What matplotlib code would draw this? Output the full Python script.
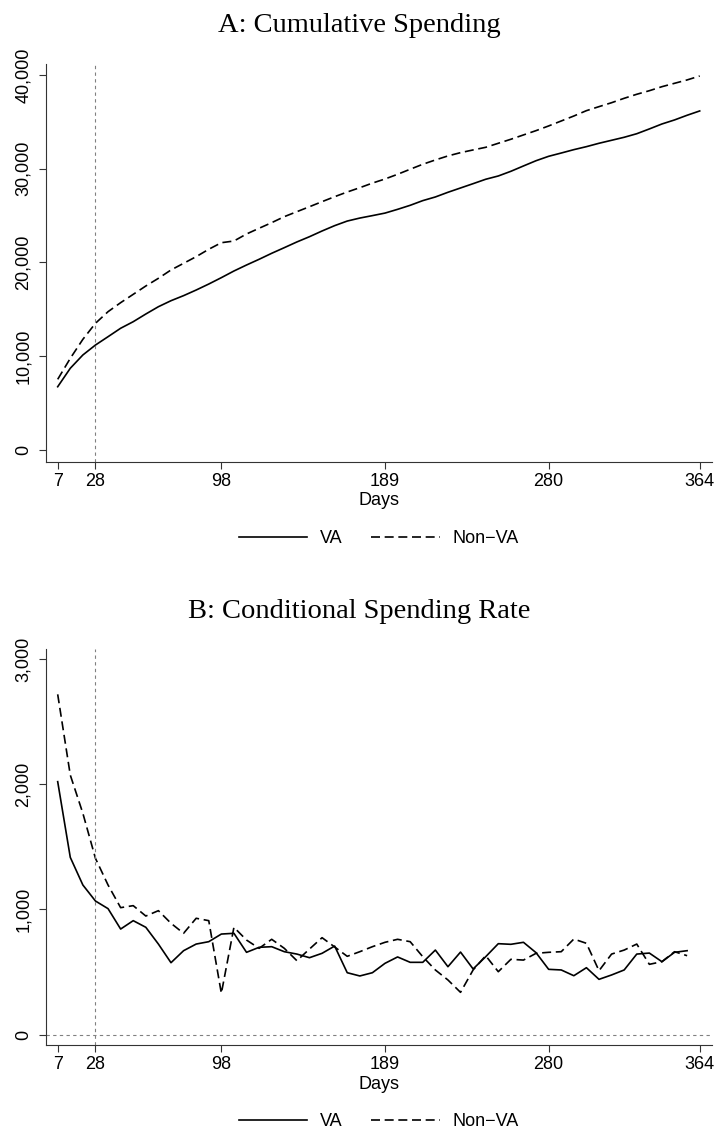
import matplotlib
matplotlib.use("Agg")
import matplotlib.pyplot as plt
import numpy as np

# weekly points, days 7..364
days_cum = np.arange(7, 365, 7)
va_cum = [6720, 8690, 10110, 11170, 12060, 12960, 13660, 14480, 15260, 15900,
          16440, 17040, 17680, 18360, 19070, 19710, 20320, 20960, 21560, 22170,
          22730, 23340, 23910, 24400, 24720, 24980, 25250, 25650, 26080, 26580,
          26970, 27470, 27930, 28390, 28860, 29210, 29710, 30280, 30840, 31310,
          31660, 32020, 32340, 32700, 33020, 33340, 33720, 34230, 34760, 35190,
          35690, 36150]
nonva_cum = [7510, 9750, 11780, 13490, 14730, 15690, 16580, 17470, 18290, 19180,
             19890, 20600, 21390, 22090, 22270, 23020, 23630, 24230, 24870, 25400,
             25930, 26470, 27000, 27500, 27960, 28450, 28890, 29390, 29930, 30460,
             30920, 31350, 31700, 31990, 32270, 32700, 33130, 33590, 34050, 34550,
             35080, 35610, 36180, 36610, 37030, 37500, 37930, 38310, 38740, 39100,
             39460, 39880]

# weekly points, days 7..357
days_rate = np.arange(7, 358, 7)
va_rate = [2021, 1416, 1195, 1067, 1006, 843, 910, 857, 723, 574,
           670, 723, 742, 803, 809, 657, 697, 702, 662, 643,
           614, 649, 707, 494, 468, 494, 569, 620, 577, 577,
           675, 542, 659, 524, 622, 726, 721, 737, 654, 521,
           516, 470, 534, 441, 476, 516, 643, 651, 582, 657,
           670]
nonva_rate = [2719, 2074, 1768, 1408, 1195, 1014, 1030, 947, 990, 889,
              809, 929, 910, 329, 857, 755, 689, 761, 689, 590,
              683, 774, 700, 625, 662, 702, 737, 761, 742, 622,
              516, 436, 337, 516, 630, 502, 601, 595, 649, 657,
              662, 763, 729, 510, 643, 675, 723, 561, 582, 662,
              630]

xticks = [7, 28, 98, 189, 280, 364]

plt.rcParams['font.family'] = ['Liberation Sans', 'DejaVu Sans']

W, H = 715, 1131
fig = plt.figure(figsize=(W / 100, H / 100), dpi=100)


def panel(ax, x, va, nonva, yticks, ylim, zero_line):
    ax.plot(x, va, color='black', lw=1.2, label='VA')
    ax.plot(x, nonva, color='black', lw=1.2, linestyle=(0, (5.4, 2.8)), label='Non\u2212VA')
    ax.axvline(28, color='#808080', lw=0.8, linestyle=(0, (3, 3)))
    if zero_line:
        ax.axhline(0, color='#808080', lw=0.8, linestyle=(0, (3, 3)))
    ax.set_xlim(0.33, 370.67)
    ax.set_ylim(*ylim)
    ax.set_xticks(xticks)
    ax.set_yticks(yticks)
    ax.set_yticklabels([f"{v:,}" for v in yticks], rotation=90, va='center')
    for s in ['top', 'right']:
        ax.spines[s].set_visible(False)
    for s in ['left', 'bottom']:
        ax.spines[s].set_linewidth(0.8)
        ax.spines[s].set_color('#333333')
    ax.tick_params(axis='both', length=5.3, width=0.8, color='#333333', labelsize=13)
    ax.tick_params(axis='x', pad=2.5)
    ax.tick_params(axis='y', pad=4.5)
    ax.set_xlabel('Days', fontsize=13, labelpad=2)
    ax.legend(loc='center', bbox_to_anchor=(0.5, -0.193), ncol=2, frameon=False,
              fontsize=13, handlelength=3.8, handletextpad=0.7, columnspacing=1.6)


axA = fig.add_axes([45.7 / W, 1 - 461.7 / H, 666 / W, 397.7 / H])
panel(axA, days_cum, va_cum, nonva_cum, [0, 10000, 20000, 30000, 40000],
      (-1280, 41160), False)

axB = fig.add_axes([45.7 / W, 1 - 1045.4 / H, 666 / W, 396.1 / H])
panel(axB, days_rate, va_rate, nonva_rate, [0, 1000, 2000, 3000],
      (-87, 3079), True)

fig.text(0.503, 1 - 26 / H, 'A: Cumulative Spending', ha='center', va='center',
         fontsize=20.5, family='Liberation Serif')
fig.text(0.503, 1 - 611 / H, 'B: Conditional Spending Rate', ha='center', va='center',
         fontsize=20.5, family='Liberation Serif')

fig.savefig('out.png', dpi=100)
